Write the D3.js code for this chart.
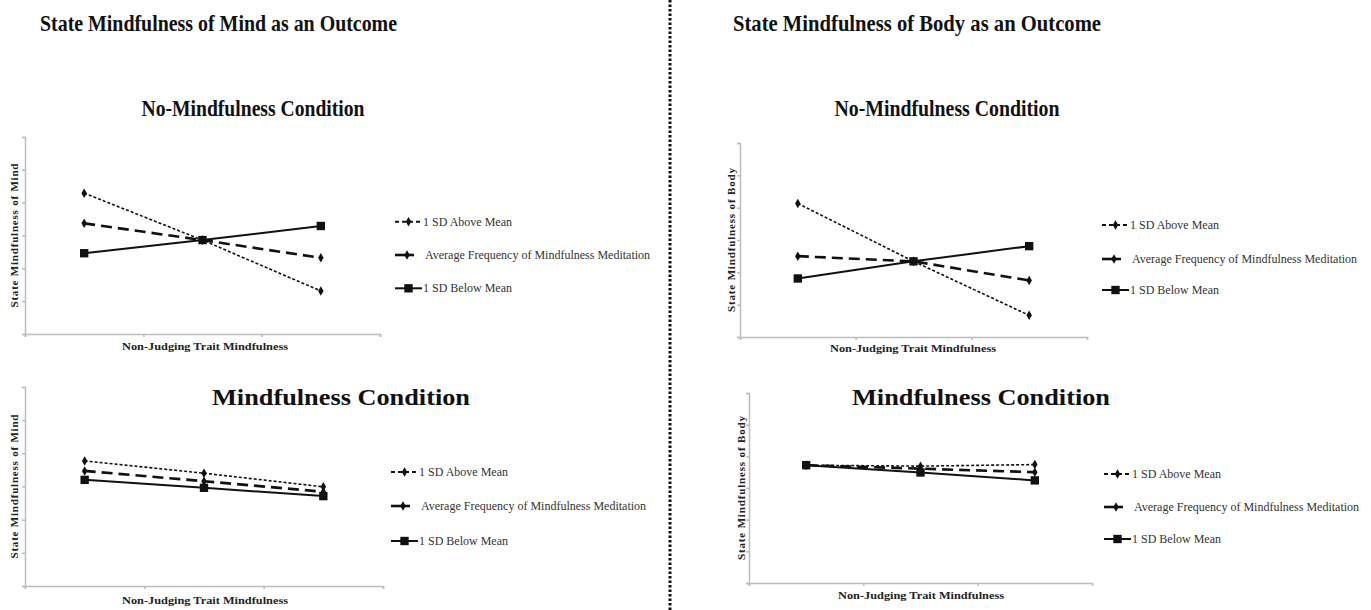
<!DOCTYPE html>
<html lang="en">
  <head>
    <meta charset="utf-8" />
    <title>State Mindfulness as an Outcome</title>
    <script src="https://d3js.org/d3.v7.min.js"></script>
    <style>
      body {
        margin: 0;
        background: white;
      }
      text {
        font-family: "Liberation Serif", "Times New Roman", serif;
      }
      .title {
        font-weight: bold;
        font-size: 24px;
        fill: #111;
      }
      .axis-label {
        font-weight: bold;
        font-size: 11px;
        fill: #222;
      }
      .legend-label {
        font-size: 12px;
        fill: #333;
      }
      .axis path,
      .axis line {
        stroke: #bdbdbd;
        stroke-width: 1.5;
      }
    </style>
  </head>
  <body>
    <svg width="1371" height="610"></svg>
    <script type="text/javascript">
      // x categories (levels of non-judging trait mindfulness, not labelled on the chart)
      const categories = ["Low", "Mean", "High"];
      const seriesNames = [
        "1 SD Above Mean",
        "Average Frequency of Mindfulness Meditation",
        "1 SD Below Mean",
      ];
      const yTicks = [0, 1, 2, 3, 4, 5, 6];

      // State mindfulness of mind, no-mindfulness condition
      const mindNoMindAbove = [4.29, 2.86, 1.31];
      const mindNoMindAverage = [3.37, 2.86, 2.32];
      const mindNoMindBelow = [2.46, 2.86, 3.29];
      // State mindfulness of mind, mindfulness condition
      const mindMindAbove = [3.77, 3.4, 2.99];
      const mindMindAverage = [3.47, 3.16, 2.84];
      const mindMindBelow = [3.2, 2.96, 2.71];
      // State mindfulness of body, no-mindfulness condition
      const bodyNoMindAbove = [4.13, 2.34, 0.67];
      const bodyNoMindAverage = [2.5, 2.34, 1.75];
      const bodyNoMindBelow = [1.81, 2.34, 2.81];
      // State mindfulness of body, mindfulness condition
      const bodyMindAbove = [3.72, 3.69, 3.74];
      const bodyMindAverage = [3.72, 3.61, 3.5];
      const bodyMindBelow = [3.72, 3.49, 3.24];

      const svg = d3.select("svg");

      // line style per series: short dash, long dash, solid
      const styles = [
        { dash: "3,2", width: 1.6, symbol: d3.symbolDiamond, size: 26 },
        { dash: "11,6", width: 2.6, symbol: d3.symbolDiamond, size: 26 },
        { dash: null, width: 2, symbol: d3.symbolSquare, size: 70 },
      ];

      const panels = [
        {
          title: "No-Mindfulness Condition",
          tx: 253, ty: 116, tw: 223,
          x0: 25, x1: 380, y0: 334, y1: 137,
          yLabel: "State Mindfulness of Mind", ylx: 18,
          xly: 350, xlx: 205, legX: 395, legY: [221.7, 255, 288.3],
          series: [mindNoMindAbove, mindNoMindAverage, mindNoMindBelow],
        },
        {
          title: "Mindfulness Condition",
          tx: 341, ty: 405, tw: 258,
          x0: 25, x1: 383, y0: 586, y1: 387,
          yLabel: "State Mindfulness of Mind", ylx: 18,
          xly: 604, xlx: 205, legX: 391, legY: [472, 506, 541],
          series: [mindMindAbove, mindMindAverage, mindMindBelow],
        },
        {
          title: "No-Mindfulness Condition",
          tx: 947, ty: 116, tw: 225,
          x0: 740, x1: 1087, y0: 337, y1: 143,
          yLabel: "State Mindfulness of Body", ylx: 735,
          xly: 352, xlx: 913, legX: 1102, legY: [225, 259, 290],
          series: [bodyNoMindAbove, bodyNoMindAverage, bodyNoMindBelow],
        },
        {
          title: "Mindfulness Condition",
          tx: 981, ty: 405, tw: 258,
          x0: 749, x1: 1092, y0: 583, y1: 393,
          yLabel: "State Mindfulness of Body", ylx: 745,
          xly: 599, xlx: 921, legX: 1104, legY: [474, 507, 539],
          series: [bodyMindAbove, bodyMindAverage, bodyMindBelow],
        },
      ];

      // Main titles
      svg.append("text")
        .attr("class", "title")
        .attr("x", 40)
        .attr("y", 31)
        .attr("textLength", 357)
        .attr("lengthAdjust", "spacingAndGlyphs")
        .text("State Mindfulness of Mind as an Outcome");

      svg.append("text")
        .attr("class", "title")
        .attr("x", 733)
        .attr("y", 31)
        .attr("textLength", 368)
        .attr("lengthAdjust", "spacingAndGlyphs")
        .text("State Mindfulness of Body as an Outcome");

      // Dotted divider
      svg.append("line")
        .attr("x1", 670)
        .attr("x2", 670)
        .attr("y1", 0)
        .attr("y2", 610)
        .attr("stroke", "#111")
        .attr("stroke-width", 3)
        .attr("stroke-dasharray", "2.5,2");

      panels.forEach((p) => {
        const g = svg.append("g");

        const x = d3.scaleBand().domain(categories).range([p.x0, p.x1]);
        const xTicks = d3.scaleLinear().domain([0, categories.length]).range([p.x0, p.x1]);
        const y = d3.scaleLinear().domain([0, 6]).range([p.y0, p.y1]);
        const cx = (d, i) => x(categories[i]) + x.bandwidth() / 2;

        // axes
        g.append("g")
          .attr("class", "axis")
          .attr("transform", "translate(0," + p.y0 + ")")
          .call(
            d3.axisBottom(xTicks)
              .tickValues(d3.range(categories.length + 1))
              .tickSize(3)
              .tickFormat("")
          );

        g.append("g")
          .attr("class", "axis")
          .attr("transform", "translate(" + p.x0 + ",0)")
          .call(d3.axisLeft(y).tickValues(yTicks).tickSize(3).tickFormat(""));

        // subtitle
        g.append("text")
          .attr("class", "title")
          .attr("x", p.tx)
          .attr("y", p.ty)
          .attr("text-anchor", "middle")
          .attr("textLength", p.tw)
          .attr("lengthAdjust", "spacingAndGlyphs")
          .text(p.title);

        // axis labels
        g.append("text")
          .attr("class", "axis-label")
          .attr("x", p.xlx - 83)
          .attr("y", p.xly)
          .attr("textLength", 166)
          .attr("lengthAdjust", "spacingAndGlyphs")
          .text("Non-Judging Trait Mindfulness");

        g.append("text")
          .attr("class", "axis-label")
          .attr("transform", "translate(" + p.ylx + "," + (p.y0 + p.y1) / 2 + ") rotate(-90)")
          .attr("x", -72)
          .attr("textLength", 144)
          .attr("lengthAdjust", "spacing")
          .text(p.yLabel);

        // lines and markers
        const line = d3.line().x(cx).y((d) => y(d));
        p.series.forEach((vals, si) => {
          const st = styles[si];
          g.append("path")
            .datum(vals)
            .attr("d", line)
            .attr("fill", "none")
            .attr("stroke", "#111")
            .attr("stroke-width", st.width)
            .attr("stroke-dasharray", st.dash);

          g.append("g")
            .selectAll("path")
            .data(vals)
            .join("path")
            .attr("d", d3.symbol().type(st.symbol).size(st.size))
            .attr("transform", (d, i) => "translate(" + cx(d, i) + "," + y(d) + ")")
            .attr("fill", "#111");
        });

        // legend
        seriesNames.forEach((name, si) => {
          const st = styles[si];
          const ly = p.legY[si];
          const lx = p.legX;
          const lg = g.append("g");
          const len = si === 1 ? 19 : 27;
          lg.append("line")
            .attr("x1", lx)
            .attr("x2", lx + len)
            .attr("y1", ly)
            .attr("y2", ly)
            .attr("stroke", "#111")
            .attr("stroke-width", si === 1 ? 2.6 : 2)
            .attr("stroke-dasharray", si === 0 ? "4,3" : null);
          lg.append("path")
            .attr("d", d3.symbol().type(st.symbol).size(st.size))
            .attr("transform", "translate(" + (lx + (si === 1 ? 12 : 13.5)) + "," + ly + ")")
            .attr("fill", "#111");
          lg.append("text")
            .attr("class", "legend-label")
            .attr("x", lx + (si === 1 ? 30 : 28))
            .attr("y", ly + 4)
            .text(name);
        });
      });
    </script>
  </body>
</html>
